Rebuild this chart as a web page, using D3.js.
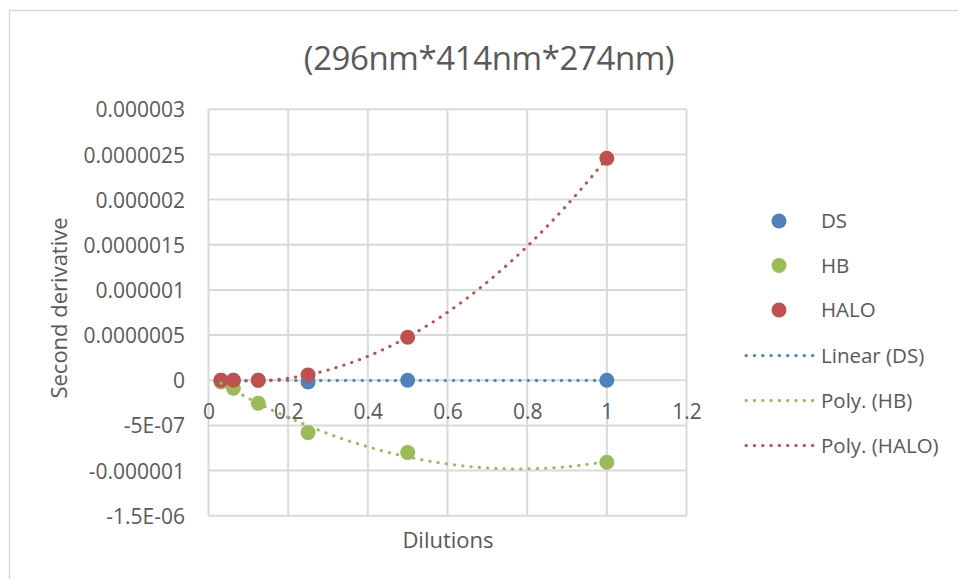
<!DOCTYPE html>
<html>
<head>
<meta charset="utf-8">
<script src="https://cdn.jsdelivr.net/npm/d3@7"></script>
<style>
  html, body { margin: 0; padding: 0; background: #fff; }
  svg { display: block; font-family: "Open Sans", sans-serif; }
</style>
</head>
<body>
<svg id="chart" width="958" height="579"></svg>
<script>
// Dilution levels and the second-derivative response of each series
const dilutions = [0.03125, 0.0625, 0.125, 0.25, 0.5, 1];
const dsValues   = [0, 0, 0, -0.02e-6, 0, 0];
const hbValues   = [-0.02e-6, -0.089e-6, -0.255e-6, -0.58e-6, -0.80e-6, -0.908e-6];
const haloValues = [0, 0, 0, 0.059e-6, 0.476e-6, 2.458e-6];

const seriesNames = ["DS", "HB", "HALO"];
const trendNames = ["Linear (DS)", "Poly. (HB)", "Poly. (HALO)"];
const seriesColors = ["#4F81BD", "#9BBB59", "#C0504D"];

const xTicks = [0, 0.2, 0.4, 0.6, 0.8, 1, 1.2];
const xTickLabels = ["0", "0.2", "0.4", "0.6", "0.8", "1", "1.2"];
const yTicks = [-1.5e-6, -1e-6, -0.5e-6, 0, 0.5e-6, 1e-6, 1.5e-6, 2e-6, 2.5e-6, 3e-6];
const yTickLabels = ["-1.5E-06", "-0.000001", "-5E-07", "0", "0.0000005", "0.000001",
                     "0.0000015", "0.000002", "0.0000025", "0.000003"];

const titleText = "(296nm*414nm*274nm)";
const xTitle = "Dilutions";
const yTitle = "Second derivative";

const svg = d3.select("#chart");
const textColor = "#595959";
const gridColor = "#d9d9d9";

// chart frame
svg.append("rect").attr("x", 9.5).attr("y", 10.5).attr("width", 1200).attr("height", 1200)
  .attr("fill", "#fff").attr("stroke", gridColor).attr("stroke-width", 1.5);

const x = d3.scaleLinear().domain([0, 1.2]).range([208.5, 686.5]);
const y = d3.scaleLinear().domain([-1.5e-6, 3e-6]).range([515.7, 109.3]);

// gridlines
const grid = svg.append("g");
grid.selectAll("line.h").data(yTicks).join("line")
  .attr("x1", x(0)).attr("x2", x(1.2))
  .attr("y1", d => y(d)).attr("y2", d => y(d))
  .attr("stroke", gridColor).attr("stroke-width", 2);
grid.selectAll("line.v").data(xTicks).join("line")
  .attr("y1", y(3e-6)).attr("y2", y(-1.5e-6))
  .attr("x1", d => x(d)).attr("x2", d => x(d))
  .attr("stroke", gridColor).attr("stroke-width", 2);

// axes (labels only; lines are provided by the grid)
const yAxis = d3.axisLeft(y).tickValues(yTicks)
  .tickFormat((d, i) => yTickLabels[i]).tickSize(0).tickPadding(0);
svg.append("g").attr("transform", "translate(185,0)").call(yAxis)
  .call(g => g.select(".domain").remove())
  .call(g => g.selectAll("text").attr("fill", textColor)
    .style("font-size", "21px").style("font-family", "Open Sans").attr("dy", "0.36em"));

const xAxis = d3.axisBottom(x).tickValues(xTicks)
  .tickFormat((d, i) => xTickLabels[i]).tickSize(0).tickPadding(0);
svg.append("g").attr("transform", `translate(0,${y(0)})`).call(xAxis)
  .call(g => g.select(".domain").remove())
  .call(g => g.selectAll("text").attr("fill", textColor)
    .style("font-size", "21px").style("font-family", "Open Sans").attr("dy", "1.85em"));

// titles
svg.append("text").attr("x", 489).attr("y", 70).attr("text-anchor", "middle")
  .attr("fill", textColor).style("font-size", "33px").style("letter-spacing", "-0.4px")
  .text(titleText);
svg.append("text").attr("x", 448).attr("y", 548).attr("text-anchor", "middle")
  .attr("fill", textColor).style("font-size", "22px").text(xTitle);
svg.append("text").attr("transform", "translate(67,308) rotate(-90)")
  .attr("text-anchor", "middle").attr("fill", textColor).style("font-size", "22px").text(yTitle);

// least-squares polynomial fit (order 1 or 2)
function polyFit(xs, ys, order) {
  const n = order + 1;
  const A = Array.from({length: n}, () => new Array(n + 1).fill(0));
  xs.forEach((xv, k) => {
    for (let i = 0; i < n; i++) {
      for (let j = 0; j < n; j++) A[i][j] += Math.pow(xv, i + j);
      A[i][n] += ys[k] * Math.pow(xv, i);
    }
  });
  for (let i = 0; i < n; i++) {
    let p = i;
    for (let r = i + 1; r < n; r++) if (Math.abs(A[r][i]) > Math.abs(A[p][i])) p = r;
    [A[i], A[p]] = [A[p], A[i]];
    for (let r = 0; r < n; r++) {
      if (r === i) continue;
      const f = A[r][i] / A[i][i];
      for (let c = i; c <= n; c++) A[r][c] -= f * A[i][c];
    }
  }
  const coef = A.map((row, i) => row[n] / row[i]);
  return xv => coef.reduce((s, c, i) => s + c * Math.pow(xv, i), 0);
}

const seriesValues = [dsValues, hbValues, haloValues];
const orders = [1, 2, 2];

// markers
seriesValues.forEach((vals, s) => {
  svg.append("g").selectAll("circle").data(dilutions).join("circle")
    .attr("cx", d => x(d)).attr("cy", (d, i) => y(vals[i]))
    .attr("r", 7.5).attr("fill", seriesColors[s]);
});

// dotted trendlines drawn over the markers
const line = d3.line().x(d => x(d[0])).y(d => y(d[1]));
const xMin = d3.min(dilutions), xMax = d3.max(dilutions);
seriesValues.forEach((vals, s) => {
  const f = polyFit(dilutions, vals, orders[s]);
  const pts = d3.range(0, 201).map(k => {
    const xv = xMin + (xMax - xMin) * k / 200;
    return [xv, f(xv)];
  });
  svg.append("path").datum(pts).attr("d", line)
    .attr("fill", "none").attr("stroke", seriesColors[s]).attr("stroke-width", 3)
    .attr("stroke-linecap", "round").attr("stroke-dasharray", "0.4 7.9");
});

// legend
const legend = svg.append("g");
const rowY = [221, 265.5, 310, 355.5, 400.5, 445.5];
seriesNames.forEach((name, i) => {
  legend.append("circle").attr("cx", 779).attr("cy", rowY[i]).attr("r", 7.5).attr("fill", seriesColors[i]);
  legend.append("text").attr("x", 821).attr("y", rowY[i]).attr("dy", "0.36em")
    .attr("fill", textColor).style("font-size", "20.5px").text(name);
});
trendNames.forEach((name, i) => {
  const yy = rowY[i + 3];
  legend.append("line").attr("x1", 746).attr("x2", 813).attr("y1", yy).attr("y2", yy)
    .attr("stroke", seriesColors[i]).attr("stroke-width", 3)
    .attr("stroke-linecap", "round").attr("stroke-dasharray", "0.4 7.9");
  legend.append("text").attr("x", 821).attr("y", yy).attr("dy", "0.36em")
    .attr("fill", textColor).style("font-size", "20.5px").text(name);
});
</script>
</body>
</html>
